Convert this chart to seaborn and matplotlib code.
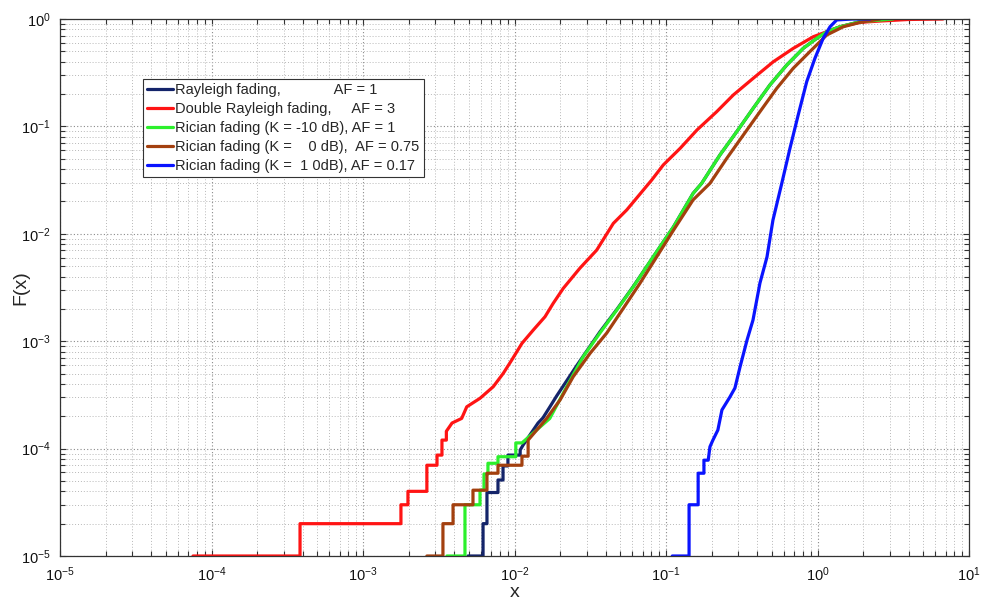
import numpy as np
import pandas as pd
import matplotlib
matplotlib.use("Agg")
import matplotlib.pyplot as plt
from matplotlib.ticker import LogLocator, LogFormatterMathtext, NullFormatter
import seaborn as sns

# ---------------- data ----------------
labels = [
    "Rayleigh fading,             AF = 1",
    "Double Rayleigh fading,     AF = 3",
    "Rician fading (K = -10 dB), AF = 1",
    "Rician fading (K =    0 dB),  AF = 0.75",
    "Rician fading (K =  1 0dB), AF = 0.17",
]
colors = ["#14246a", "#ff1414", "#2cf02c", "#a3400f", "#0a14ff"]

rayleigh_x = [4.93e-3, 6.2e-3, 6.2e-3, 6.58e-3, 6.58e-3, 7.78e-3, 7.78e-3, 8.4e-3, 8.4e-3,
              9.05e-3, 9.05e-3, 1.09e-2, 1.09e-2, 1.14e-2, 1.43e-2, 1.54e-2, 1.71e-2, 1.90e-2,
              2.57e-2, 3.66e-2, 4.73e-2, 6.08e-2, 8.24e-2, 0.112, 0.151, 0.172, 0.227, 0.293,
              0.377, 0.485, 0.627, 0.805, 0.989, 1.15, 1.41, 1.91, 2.6]
rayleigh_y = [1e-5, 1e-5, 2e-5, 2e-5, 3.9e-5, 3.9e-5, 5.1e-5, 5.1e-5, 6.9e-5,
              6.9e-5, 8.7e-5, 8.7e-5, 9.7e-5, 1.08e-4, 1.73e-4, 1.93e-4, 2.44e-4, 3.1e-4,
              5.9e-4, 1.22e-3, 1.97e-3, 3.23e-3, 6.1e-3, 1.16e-2, 2.38e-2, 2.95e-2, 5.42e-2,
              8.93e-2, 0.148, 0.243, 0.373, 0.533, 0.661, 0.762, 0.847, 0.944, 1.0]

double_x = [7.55e-5, 3.84e-4, 3.84e-4, 1.78e-3, 1.78e-3, 1.98e-3, 1.98e-3, 2.64e-3, 2.64e-3,
            3.08e-3, 3.08e-3, 3.32e-3, 3.32e-3, 3.55e-3, 3.55e-3, 3.87e-3, 4.48e-3, 4.84e-3,
            5.92e-3, 7.24e-3, 8.43e-3, 9.59e-3, 1.12e-2, 1.33e-2, 1.59e-2, 1.80e-2, 2.10e-2,
            2.70e-2, 3.49e-2, 4.49e-2, 5.51e-2, 8.05e-2, 9.6e-2, 0.124, 0.160, 0.216, 0.278,
            0.377, 0.511, 0.692, 0.938, 1.41, 1.91, 2.59, 4.0, 6.73]
double_y = [1e-5, 1e-5, 2e-5, 2e-5, 3e-5, 3e-5, 4e-5, 4e-5, 7e-5,
            7e-5, 8.7e-5, 8.7e-5, 1.2e-4, 1.2e-4, 1.45e-4, 1.73e-4, 1.91e-4, 2.45e-4,
            2.94e-4, 3.77e-4, 5.02e-4, 6.68e-4, 9.55e-4, 1.27e-3, 1.69e-3, 2.25e-3, 3.11e-3,
            4.78e-3, 7.06e-3, 1.25e-2, 1.67e-2, 3.17e-2, 4.38e-2, 6.25e-2, 9.25e-2, 0.137, 0.196,
            0.281, 0.400, 0.533, 0.684, 0.847, 0.931, 0.957, 0.99, 1.0]

rice_m10_x = [3.58e-3, 4.71e-3, 4.71e-3, 5.92e-3, 5.92e-3, 6.29e-3, 6.29e-3, 6.68e-3, 6.68e-3,
              7.78e-3, 7.78e-3, 1.02e-2, 1.02e-2, 1.12e-2, 1.71e-2, 2.21e-2, 2.84e-2,
              3.66e-2, 4.73e-2, 6.08e-2, 8.24e-2, 0.112, 0.151, 0.172, 0.227, 0.293, 0.377,
              0.485, 0.627, 0.805, 0.989, 1.15, 1.41, 1.91, 3.15]
rice_m10_y = [1e-5, 1e-5, 3e-5, 3e-5, 4.1e-5, 4.1e-5, 5.8e-5, 5.8e-5, 7.3e-5,
              7.3e-5, 8.4e-5, 8.4e-5, 1.13e-4, 1.13e-4, 1.91e-4, 3.77e-4, 7.18e-4,
              1.19e-3, 1.95e-3, 3.21e-3, 6.12e-3, 1.16e-2, 2.38e-2, 2.95e-2, 5.42e-2, 8.93e-2, 0.148,
              0.243, 0.373, 0.533, 0.661, 0.762, 0.847, 0.944, 1.0]

rice_0_x = [2.64e-3, 3.37e-3, 3.37e-3, 3.93e-3, 3.93e-3, 5.32e-3, 5.32e-3, 6.58e-3, 6.58e-3,
            7.78e-3, 7.78e-3, 1.12e-2, 1.12e-2, 1.23e-2, 1.23e-2, 1.63e-2, 2.0e-2, 2.44e-2,
            3.15e-2, 4.06e-2, 5.22e-2, 6.73e-2, 8.69e-2, 0.112, 0.151, 0.195, 0.252, 0.324,
            0.417, 0.538, 0.692, 0.891, 1.15, 1.48, 1.91, 2.59]
rice_0_y = [1e-5, 1e-5, 2e-5, 2e-5, 3e-5, 3e-5, 4.1e-5, 4.1e-5, 5.9e-5,
            5.9e-5, 7e-5, 7e-5, 8.5e-5, 8.5e-5, 1.2e-4, 1.91e-4, 2.84e-4, 4.67e-4,
            7.7e-4, 1.19e-3, 2.02e-3, 3.46e-3, 6.12e-3, 1.08e-2, 2.07e-2, 2.95e-2, 5.05e-2, 8.32e-2,
            0.137, 0.226, 0.348, 0.497, 0.709, 0.847, 0.931, 1.0]

rice_10_x = [0.110, 0.142, 0.142, 0.163, 0.163, 0.178, 0.178, 0.19, 0.195, 0.204, 0.220,
             0.234, 0.264, 0.285, 0.308, 0.343, 0.375, 0.417, 0.464, 0.508, 0.581, 0.658,
             0.746, 0.849, 0.962, 1.09, 1.21, 1.34, 1.70, 2.22]
rice_10_y = [1e-5, 1e-5, 3e-5, 3e-5, 5.9e-5, 5.9e-5, 7.8e-5, 7.8e-5, 1.04e-4, 1.2e-4, 1.49e-4,
             2.29e-4, 3.02e-4, 3.66e-4, 5.75e-4, 1.03e-3, 1.57e-3, 3.48e-3, 6.08e-3, 1.34e-2,
             2.95e-2, 6.25e-2, 0.128, 0.261, 0.431, 0.661, 0.847, 0.98, 1.0, 1.0]

series_x = [rayleigh_x, double_x, rice_m10_x, rice_0_x, rice_10_x]
series_y = [rayleigh_y, double_y, rice_m10_y, rice_0_y, rice_10_y]

x_ticks = [1e-5, 1e-4, 1e-3, 1e-2, 1e-1, 1e0, 1e1]
y_ticks = [1e-5, 1e-4, 1e-3, 1e-2, 1e-1, 1e0]

# ---------------- style ----------------
sns.set_theme(style="white")
plt.rcParams["font.family"] = ["Liberation Sans", "DejaVu Sans"]
plt.rcParams["mathtext.fontset"] = "custom"
plt.rcParams["mathtext.rm"] = "Liberation Sans"
plt.rcParams["mathtext.it"] = "Liberation Sans:italic"
plt.rcParams["mathtext.bf"] = "Liberation Sans:bold"

fig = plt.figure(figsize=(9.84, 6.03), dpi=100)
ax = fig.add_axes([60 / 984, 1 - 556 / 603, (969 - 60) / 984, (556 - 19) / 603])
ax.set_xscale("log")
ax.set_yscale("log")

for xs, ys, lab, col in zip(series_x, series_y, labels, colors):
    df = pd.DataFrame({"x": xs, "y": ys})
    sns.lineplot(data=df, x="x", y="y", estimator=None, sort=False, color=col,
                 lw=2.3, label=lab, ax=ax)

ax.set_xlim(1e-5, 1e1)
ax.set_ylim(1e-5, 1e0)
ax.set_xticks(x_ticks)
ax.set_yticks(y_ticks)
ax.xaxis.set_major_formatter(LogFormatterMathtext())
ax.yaxis.set_major_formatter(LogFormatterMathtext())
ax.xaxis.set_minor_locator(LogLocator(base=10, subs=np.arange(2, 10), numticks=100))
ax.yaxis.set_minor_locator(LogLocator(base=10, subs=np.arange(2, 10), numticks=100))
ax.xaxis.set_minor_formatter(NullFormatter())
ax.yaxis.set_minor_formatter(NullFormatter())

ax.grid(True, which="major", linestyle=(0, (1, 2)), color="#8a8a8a", lw=0.8)
ax.grid(True, which="minor", linestyle=(0, (1, 2)), color="#b8b8b8", lw=0.7)
ax.set_axisbelow(True)

ax.tick_params(which="both", direction="in", top=True, right=True,
               bottom=True, left=True, color="#333333", width=0.8)
ax.tick_params(which="major", length=4.5, labelsize=10.5, pad=7, labelcolor="#111111")
ax.tick_params(which="minor", length=3.5)
for sp in ax.spines.values():
    sp.set_color("#333333")
    sp.set_linewidth(0.9)

ax.set_xlabel("x", fontsize=14, labelpad=0)
ax.set_ylabel("F(x)", fontsize=14)
ax.yaxis.set_label_coords(-0.034, 0.5)

leg = ax.legend(loc="upper left", bbox_to_anchor=((143 - 60) / 909, (556 - 79) / 537),
                borderaxespad=0, fontsize=10.5, labelspacing=0.33, handlelength=1.75,
                handletextpad=0.15, borderpad=0.3, fancybox=False, framealpha=1,
                edgecolor="#333333")
leg.get_frame().set_linewidth(0.8)
for line in leg.get_lines():
    line.set_linewidth(2.3)

fig.savefig("out.png", dpi=100)
